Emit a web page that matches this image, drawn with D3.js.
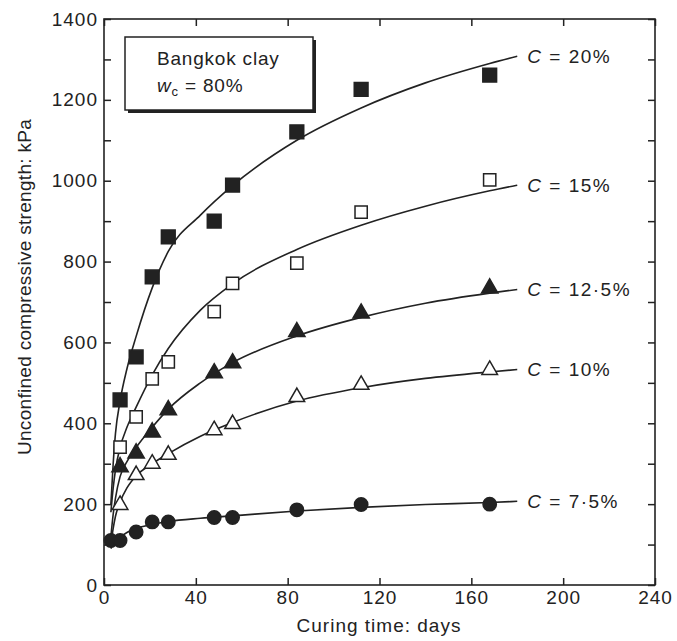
<!DOCTYPE html>
<html><head><meta charset="utf-8">
<script src="https://cdn.jsdelivr.net/npm/d3@7"></script>
<style>
html,body{margin:0;padding:0;background:#fff;}
svg{display:block;font-family:"Liberation Sans",Arial,sans-serif;}
</style></head>
<body><svg id="chart" width="677" height="641"></svg>
<script>
// ---- data ----
const days = [7, 14, 21, 28, 48, 56, 84, 112, 168];
const c20 = [458, 564, 762, 861, 900, 989, 1121, 1226, 1261];
const c15 = [341, 416, 510, 552, 676, 746, 796, 922, 1002];
const c125 = [292, 326, 378, 433, 524, 549, 626, 672, 734];
const c10 = [198, 272, 300, 322, 383, 398, 465, 495, 532];
const days75 = [3, 7, 14, 21, 28, 48, 56, 84, 112, 168];
const c75 = [110, 110, 131, 156, 156, 167, 167, 186, 199, 200];

// fitted curves
const fitDays = [3, 4, 5, 7, 10, 14, 21, 28, 42, 56, 84, 112, 140, 168, 180];
const fit20 = [200, 300, 375, 455, 535, 615, 735, 825, 915, 988, 1100, 1180, 1242, 1290, 1308];
const fit15 = [180, 240, 285, 340, 390, 440, 520, 585, 680, 745, 830, 890, 937, 975, 989];
const fit125 = [120, 175, 215, 268, 305, 340, 390, 435, 500, 550, 616, 662, 697, 722, 731];
const fit10 = [100, 140, 170, 205, 240, 270, 300, 325, 368, 402, 455, 488, 511, 527, 533];
const fit75 = [90, 100, 108, 118, 130, 140, 150, 157, 165, 171, 183, 192, 199, 204, 207];

const seriesLabels = ["20%", "15%", "12·5%", "10%", "7·5%"];
const xTicks = [0, 40, 80, 120, 160, 200, 240];
const yTicks = [0, 200, 400, 600, 800, 1000, 1200, 1400];
const yMinorTicks = [100, 300, 500, 700, 900, 1100, 1300];

const xTitle = "Curing time: days";
const yTitle = "Unconfined compressive strength: kPa";

// ---- layout ----
const svg = d3.select("#chart");
const L = 104, R = 655, T = 19, B = 585;
const x = d3.scaleLinear().domain([0, 240]).range([L, R]);
const y = d3.scaleLinear().domain([0, 1400]).range([B, T]);
const ink = "#222";
const fs = 19;

// frame
svg.append("rect").attr("x", L).attr("y", T).attr("width", R - L).attr("height", B - T)
  .attr("fill", "none").attr("stroke", ink).attr("stroke-width", 1.6);

// axes with inward ticks
const tl = 7;
const gx = svg.append("g").attr("transform", `translate(0,${B})`)
  .call(d3.axisBottom(x).tickValues(xTicks).tickSizeInner(-tl).tickSizeOuter(0).tickPadding(6).tickFormat(d3.format("d")));
const gxt = svg.append("g").attr("transform", `translate(0,${T})`)
  .call(d3.axisTop(x).tickValues(xTicks).tickSizeInner(-tl).tickSizeOuter(0).tickFormat(""));
const gy = svg.append("g").attr("transform", `translate(${L},0)`)
  .call(d3.axisLeft(y).tickValues(yTicks.concat(yMinorTicks)).tickSizeInner(-tl).tickSizeOuter(0).tickPadding(6)
    .tickFormat(d => yTicks.includes(d) ? d : ""));
const gyr = svg.append("g").attr("transform", `translate(${R},0)`)
  .call(d3.axisRight(y).tickValues(yTicks.concat(yMinorTicks)).tickSizeInner(-tl).tickSizeOuter(0).tickFormat(""));
[gx, gxt, gy, gyr].forEach(g => {
  g.select(".domain").remove();
  g.selectAll("line").attr("stroke", ink).attr("stroke-width", 1.5);
  g.selectAll("text").attr("fill", ink).style("font-size", fs + "px").style("letter-spacing", "1px")
    .style("font-family", "'Liberation Sans',Arial,sans-serif");
});
gx.selectAll("text").attr("dy", "0.71em");

// axis titles
svg.append("text").attr("x", 379).attr("y", 632).attr("text-anchor", "middle")
  .attr("fill", ink).style("font-size", fs + "px").style("letter-spacing", "1px").text(xTitle);
svg.append("text").attr("transform", `translate(31,${287}) rotate(-90)`).attr("text-anchor", "middle")
  .attr("fill", ink).style("font-size", fs + "px").style("letter-spacing", "0.3px").text(yTitle);

// curves
const line = d3.line().x(d => x(d[0])).y(d => y(d[1])).curve(d3.curveMonotoneX);
const fits = [fit20, fit15, fit125, fit10, fit75];
fits.forEach((f, i) => {
  svg.append("path").datum(fitDays.map((d, j) => [d, f[j]]))
    .attr("d", line).attr("fill", "none").attr("stroke", ink).attr("stroke-width", 1.6);
  const last = f[f.length - 1];
  const t = svg.append("text").attr("x", x(180) + 10).attr("y", y(last)).attr("dy", "0.35em")
    .attr("fill", ink).style("font-size", "19px").style("letter-spacing", "1.5px");
  t.append("tspan").attr("font-style", "italic").text("C");
  t.append("tspan").text(" = " + seriesLabels[i]);
});

// markers
const markerSets = [
  {d: days, v: c20, type: d3.symbolSquare, size: 190, fill: ink},
  {d: days, v: c15, type: d3.symbolSquare, size: 150, fill: "#fff"},
  {d: days, v: c125, type: d3.symbolTriangle, size: 115, fill: ink},
  {d: days, v: c10, type: d3.symbolTriangle, size: 105, fill: "#fff"},
  {d: days75, v: c75, type: d3.symbolCircle, size: 140, fill: ink}
];
markerSets.forEach(s => {
  svg.append("g").selectAll("path").data(s.d.map((d, j) => [d, s.v[j]])).join("path")
    .attr("transform", p => `translate(${x(p[0])},${y(p[1])})`)
    .attr("d", d3.symbol().type(s.type).size(s.size))
    .attr("fill", s.fill).attr("stroke", ink).attr("stroke-width", 1.5);
});

// info box with shadow
const bx = 125, by = 37, bw = 188, bh = 73;
svg.append("rect").attr("x", bx + 3).attr("y", by + 3).attr("width", bw).attr("height", bh).attr("fill", ink);
svg.append("rect").attr("x", bx).attr("y", by).attr("width", bw).attr("height", bh)
  .attr("fill", "#fff").attr("stroke", ink).attr("stroke-width", 1.5);
svg.append("text").attr("x", bx + 32).attr("y", by + 28).attr("fill", ink).style("font-size", "19px")
  .style("letter-spacing", "0.8px").text("Bangkok clay");
const t2 = svg.append("text").attr("x", bx + 32).attr("y", by + 55).attr("fill", ink).style("font-size", "19px")
  .style("letter-spacing", "0.8px");
t2.append("tspan").attr("font-style", "italic").text("w");
t2.append("tspan").attr("dy", 4).style("font-size", "13px").text("c");
t2.append("tspan").attr("dy", -4).text(" = 80%");
</script></body></html>
